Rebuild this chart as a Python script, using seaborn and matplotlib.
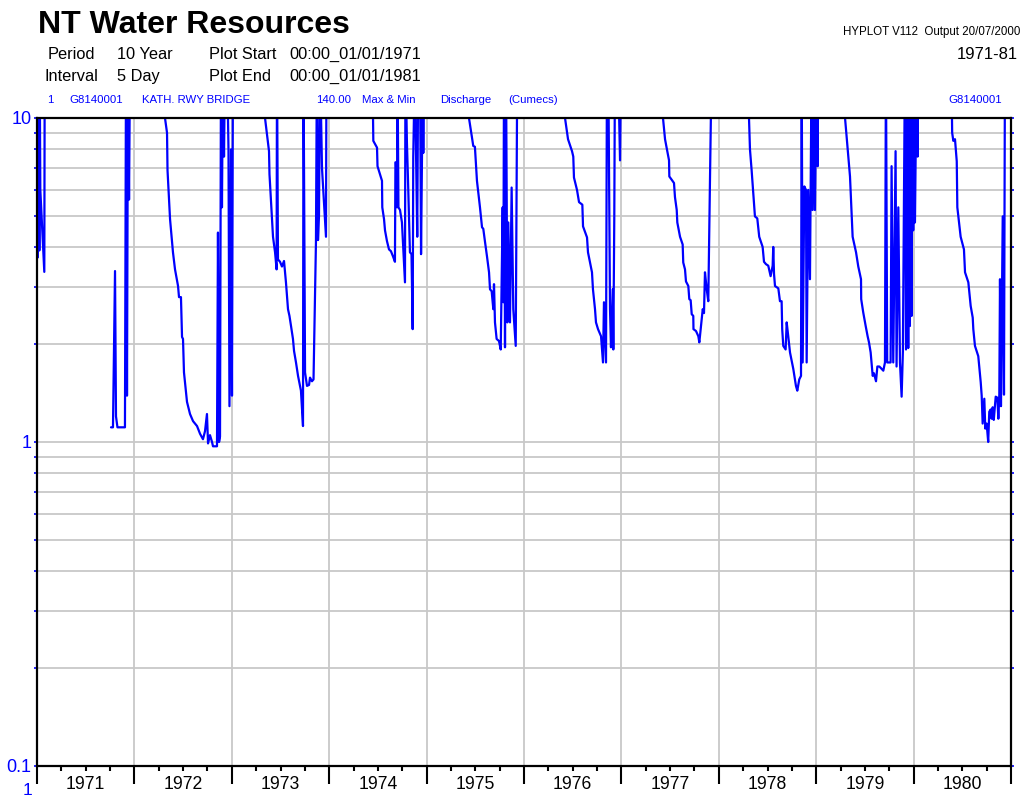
import numpy as np
import pandas as pd
import matplotlib
matplotlib.use("Agg")
import matplotlib.pyplot as plt
import seaborn as sns
from matplotlib.ticker import FixedLocator, FixedFormatter, LogLocator, NullFormatter

sns.set_style("white")
plt.rcParams['font.family'] = ['Liberation Sans', 'DejaVu Sans']
plt.rcParams['text.color'] = 'black'
plt.rcParams['xtick.color'] = 'black'
plt.rcParams['xtick.labelcolor'] = 'black'

# ------------------------------------------------------------
# 5-day max & min discharge (cumecs).
# Values above 10 run off the top of the plot.
# Each block is one season; early-1971 block is followed by a data gap.
# ------------------------------------------------------------
yr_a = [1971.000, 1971.004, 1971.009, 1971.014, 1971.019, 1971.024, 1971.029, 1971.034, 1971.075, 1971.080]
q_a = [12, 3.7, 12, 4.0, 12, 3.9, 12, 6.0, 3.35, 20]

yr_b = [1971.760, 1971.780, 1971.801, 1971.811, 1971.826, 1971.903, 1971.914, 1971.924, 1971.934, 1971.945, 1971.955,
        1972.300, 1972.314, 1972.335, 1972.340, 1972.366, 1972.396, 1972.417, 1972.448, 1972.458, 1972.478,
        1972.489, 1972.499, 1972.509, 1972.540, 1972.571, 1972.602, 1972.643, 1972.674, 1972.704, 1972.725,
        1972.745, 1972.756, 1972.776, 1972.797, 1972.807, 1972.848, 1972.858, 1972.869, 1972.879, 1972.889,
        1972.899, 1972.909, 1972.920, 1972.930, 1972.951, 1972.966, 1972.976, 1972.992, 1973.002, 1973.012]
q_b = [1.11, 1.11, 3.37, 1.2, 1.11, 1.11, 15, 1.39, 15, 5.6, 15,
       15, 10, 9.0, 6.9, 4.87, 3.85, 3.41, 3.03, 2.8, 2.8,
       2.11, 2.08, 1.64, 1.33, 1.22, 1.16, 1.12, 1.06, 1.02, 1.08,
       1.22, 0.99, 1.05, 1.0, 0.97, 0.97, 4.43, 1.0, 1.04, 15,
       5.3, 15, 7.6, 15, 15, 8.0, 1.29, 8.0, 1.39, 15]

yr_c = [1973.330, 1973.341, 1973.382, 1973.387, 1973.423, 1973.444, 1973.460, 1973.464, 1973.474, 1973.495,
        1973.515, 1973.536, 1973.556, 1973.577, 1973.592, 1973.608, 1973.628, 1973.639, 1973.659, 1973.680,
        1973.710, 1973.731, 1973.736, 1973.752, 1973.772, 1973.793, 1973.803, 1973.823, 1973.839, 1973.864,
        1973.874, 1973.885, 1973.895, 1973.906, 1973.926, 1973.967, 1973.972]
q_c = [15, 10, 7.9, 6.7, 4.3, 3.85, 3.41, 15, 3.66, 3.6,
       3.48, 3.62, 3.11, 2.57, 2.45, 2.28, 2.08, 1.91, 1.76, 1.6,
       1.44, 1.12, 15, 1.64, 1.49, 1.5, 1.58, 1.54, 1.56, 4.14,
       15, 4.2, 4.97, 15, 7.0, 4.3, 15]

yr_d = [1974.440, 1974.450, 1974.453, 1974.491, 1974.496, 1974.542, 1974.545, 1974.563, 1974.573, 1974.593,
        1974.614, 1974.634, 1974.655, 1974.675, 1974.680, 1974.686, 1974.696, 1974.701, 1974.711, 1974.727,
        1974.747, 1974.778, 1974.783, 1974.798, 1974.809, 1974.829, 1974.845, 1974.857, 1974.863, 1974.880,
        1974.891, 1974.904, 1974.914, 1974.932, 1974.943, 1974.953, 1974.960, 1974.966, 1974.973]
q_d = [15, 10, 8.5, 8.1, 7.1, 6.4, 5.3, 4.87, 4.5, 4.17,
       3.93, 3.88, 3.74, 3.6, 7.3, 7.3, 5.3, 15, 5.3, 5.2,
       4.76, 3.11, 15, 8.4, 6.45, 3.85, 3.8, 2.23, 7.6, 15,
       8.0, 4.3, 15, 15, 3.8, 7.8, 15, 7.8, 15]

yr_e = [1975.420, 1975.435, 1975.466, 1975.479, 1975.496, 1975.517, 1975.548, 1975.569, 1975.582, 1975.600,
        1975.620, 1975.641, 1975.651, 1975.668, 1975.685, 1975.692, 1975.702, 1975.719, 1975.743, 1975.761,
        1975.781, 1975.788, 1975.795, 1975.805, 1975.815, 1975.829, 1975.839, 1975.856, 1975.873, 1975.890,
        1975.915, 1975.925, 1975.931]
q_e = [15, 10, 8.7, 8.2, 8.15, 6.4, 5.3, 4.6, 4.55, 4.14,
       3.74, 3.34, 2.96, 2.92, 2.57, 3.07, 2.34, 2.08, 2.05, 1.93,
       5.3, 2.7, 15, 1.96, 15, 2.34, 4.76, 2.34, 6.1, 2.57,
       1.98, 6.85, 15]

yr_f = [1976.410, 1976.421, 1976.452, 1976.493, 1976.506, 1976.513, 1976.544, 1976.565, 1976.599, 1976.606,
        1976.647, 1976.657, 1976.678, 1976.698, 1976.708, 1976.729, 1976.739, 1976.760, 1976.791, 1976.811,
        1976.821, 1976.842, 1976.852, 1976.865, 1976.883, 1976.893, 1976.911, 1976.917, 1976.927, 1976.934,
        1976.965, 1976.986, 1976.996]
q_f = [15, 10, 8.6, 7.9, 7.6, 6.55, 6.0, 5.5, 5.4, 4.63,
       4.28, 3.85, 3.58, 3.34, 2.96, 2.57, 2.34, 2.23, 2.12, 1.76,
       2.7, 1.76, 15, 15, 2.57, 1.96, 2.96, 1.93, 4.97, 15,
       15, 7.4, 15]

yr_g = [1977.420, 1977.427, 1977.448, 1977.471, 1977.489, 1977.492, 1977.516, 1977.540, 1977.550, 1977.568,
        1977.574, 1977.602, 1977.629, 1977.635, 1977.653, 1977.663, 1977.687, 1977.697, 1977.711, 1977.722,
        1977.738, 1977.740, 1977.766, 1977.790, 1977.800, 1977.814, 1977.835, 1977.848, 1977.858, 1977.876,
        1977.892, 1977.910, 1977.927]
q_g = [15, 10, 8.6, 7.9, 7.4, 6.6, 6.45, 6.3, 5.7, 5.2,
       4.76, 4.3, 4.07, 3.58, 3.41, 3.13, 3.03, 2.76, 2.74, 2.48,
       2.45, 2.23, 2.2, 2.12, 2.03, 2.23, 2.57, 2.5, 3.34, 2.96,
       2.72, 6.6, 15]

yr_h = [1978.300, 1978.310, 1978.320, 1978.337, 1978.371, 1978.395, 1978.415, 1978.450, 1978.464, 1978.484,
        1978.508, 1978.532, 1978.553, 1978.559, 1978.567, 1978.577, 1978.611, 1978.628, 1978.645, 1978.651,
        1978.662, 1978.686, 1978.697, 1978.713, 1978.731, 1978.765, 1978.792, 1978.806, 1978.826, 1978.844,
        1978.851, 1978.861, 1978.878, 1978.895, 1978.902, 1978.918, 1978.936, 1978.953, 1978.963, 1978.977,
        1978.987, 1979.005, 1979.015, 1979.021]
q_h = [15, 10, 8.0, 6.9, 4.97, 4.9, 4.3, 4.0, 3.6, 3.54,
       3.5, 3.25, 3.5, 4.0, 3.3, 3.03, 2.98, 2.72, 2.72, 2.23,
       1.98, 1.93, 2.34, 2.12, 1.89, 1.68, 1.49, 1.44, 1.56, 1.6,
       15, 1.76, 6.15, 6.0, 1.76, 6.0, 3.18, 15, 5.2, 15,
       5.2, 15, 7.1, 15]

yr_i = [1979.280, 1979.296, 1979.316, 1979.347, 1979.374, 1979.409, 1979.432, 1979.460, 1979.462, 1979.483,
        1979.508, 1979.528, 1979.542, 1979.559, 1979.580, 1979.593, 1979.614, 1979.628, 1979.648, 1979.665,
        1979.689, 1979.706, 1979.716, 1979.729, 1979.764, 1979.774, 1979.791, 1979.815, 1979.825, 1979.843,
        1979.860, 1979.877, 1979.890, 1979.911, 1979.922, 1979.935, 1979.945, 1979.955, 1979.962, 1979.969,
        1979.980, 1979.986, 1979.996, 1980.007, 1980.014, 1980.031, 1980.041, 1980.048]
q_i = [15, 10, 8.5, 6.6, 4.3, 3.85, 3.48, 3.18, 2.76, 2.51,
       2.28, 2.12, 2.03, 1.89, 1.6, 1.63, 1.54, 1.71, 1.71, 1.69,
       1.66, 1.76, 15, 1.76, 1.76, 7.1, 1.76, 7.9, 1.71, 5.3,
       1.76, 1.38, 1.9, 15, 1.93, 15, 1.95, 15, 2.28, 15,
       2.45, 15, 4.5, 15, 4.76, 15, 7.6, 15]

yr_j = [1980.380, 1980.394, 1980.396, 1980.408, 1980.425, 1980.443, 1980.449, 1980.483, 1980.517, 1980.528,
        1980.562, 1980.586, 1980.607, 1980.613, 1980.630, 1980.664, 1980.689, 1980.699, 1980.709, 1980.726,
        1980.736, 1980.750, 1980.766, 1980.777, 1980.791, 1980.801, 1980.812, 1980.823, 1980.843, 1980.860,
        1980.870, 1980.880, 1980.887, 1980.897, 1980.915, 1980.928, 1980.938, 1980.949]
q_j = [15, 10, 9.0, 8.5, 8.6, 7.35, 5.3, 4.3, 3.93, 3.34,
       3.11, 2.63, 2.42, 2.23, 1.98, 1.84, 1.53, 1.39, 1.14, 1.36,
       1.1, 1.14, 1.0, 1.24, 1.26, 1.18, 1.28, 1.17, 1.38, 1.37,
       1.18, 1.4, 3.18, 1.29, 4.97, 1.4, 15, 15]

years = list(range(1971, 1981))
year_labels = [str(y) for y in years]
y_labels = ["0.1", "1", "10"]

seasons = [(yr_a, q_a), (yr_b, q_b), (yr_c, q_c), (yr_d, q_d), (yr_e, q_e),
           (yr_f, q_f), (yr_g, q_g), (yr_h, q_h), (yr_i, q_i), (yr_j, q_j)]
df = pd.concat([pd.DataFrame({"year": t, "flow": q, "seg": i})
                for i, (t, q) in enumerate(seasons)], ignore_index=True)

W, H = 1025, 798
fig = plt.figure(figsize=(W / 100, H / 100), dpi=100)
ax = fig.add_axes([37 / W, 32 / H, 974 / W, 648 / H])

sns.lineplot(data=df, x="year", y="flow", units="seg", estimator=None, sort=False,
             color="#0000ff", lw=1.6, ax=ax, legend=False)

ax.set_yscale("log")
ax.set_ylim(0.1, 10)
ax.set_xlim(1971, 1981)
ax.set_xlabel("")
ax.set_ylabel("")

# grid: every log minor line, and year boundaries
ax.set_axisbelow(True)
ax.yaxis.set_major_locator(FixedLocator([0.1, 1, 10]))
ax.yaxis.set_major_formatter(FixedFormatter(y_labels))
ax.yaxis.set_minor_locator(LogLocator(base=10, subs=range(2, 10)))
ax.yaxis.set_minor_formatter(NullFormatter())
ax.grid(True, which="both", axis="y", color="#c8c8c8", lw=1.3)

ax.xaxis.set_major_locator(FixedLocator(list(range(1971, 1982))))
ax.xaxis.set_major_formatter(NullFormatter())
quarter = [y + f for y in years for f in (0.25, 0.5, 0.75)]
quarter_lbl = [lab if f == 0.5 else "" for lab in year_labels for f in (0.25, 0.5, 0.75)]
ax.xaxis.set_minor_locator(FixedLocator(quarter))
ax.xaxis.set_minor_formatter(FixedFormatter(quarter_lbl))
ax.grid(True, which="major", axis="x", color="#c8c8c8", lw=1.3)

ax.tick_params(axis="x", which="major", bottom=True, direction="out", length=13, width=1.5,
               color="black")
ax.tick_params(axis="x", which="minor", bottom=True, direction="out", length=3.5, width=1.5,
               color="black", labelcolor="black", labelsize=12.7, pad=4)
ax.tick_params(axis="y", which="both", direction="out", left=True, right=True, length=2, width=1.2,
               color="#0000ff", labelcolor="#0000ff", labelsize=13, pad=2)

for s in ax.spines.values():
    s.set_visible(True)
    s.set_color("black")
    s.set_linewidth(1.6)


def put(x, y, s, **kw):
    fig.text(x / W, 1 - y / H, s, va="baseline", **kw)


put(38, 33, "NT Water Resources", fontsize=23, fontweight="bold")
put(48, 59, "Period", fontsize=11.8)
put(117, 59, "10 Year", fontsize=11.8)
put(209, 59, "Plot Start", fontsize=11.8)
put(289, 59, "00:00_01/01/1971", fontsize=11.8)
put(45, 81, "Interval", fontsize=11.8)
put(117, 81, "5 Day", fontsize=11.8)
put(209, 81, "Plot End", fontsize=11.8)
put(289, 81, "00:00_01/01/1981", fontsize=11.8)

blue = "#0000ff"
put(47, 103, "1", fontsize=8.2, color=blue)
put(69, 103, "G8140001", fontsize=8.2, color=blue)
put(142, 103, "KATH. RWY BRIDGE", fontsize=8.2, color=blue)
put(316, 103, "140.00", fontsize=8.2, color=blue)
put(362, 103, "Max & Min", fontsize=8.2, color=blue)
put(440, 103, "Discharge", fontsize=8.2, color=blue)
put(508, 103, "(Cumecs)", fontsize=8.2, color=blue)
put(948, 103, "G8140001", fontsize=8.2, color=blue)

put(1020, 35, "HYPLOT V112  Output 20/07/2000", fontsize=8.3, ha="right")
put(1018, 59, "1971-81", fontsize=12, ha="right")
put(27, 795, "1", fontsize=12.5, color=blue, ha="center")

fig.savefig("out.png", dpi=100)
